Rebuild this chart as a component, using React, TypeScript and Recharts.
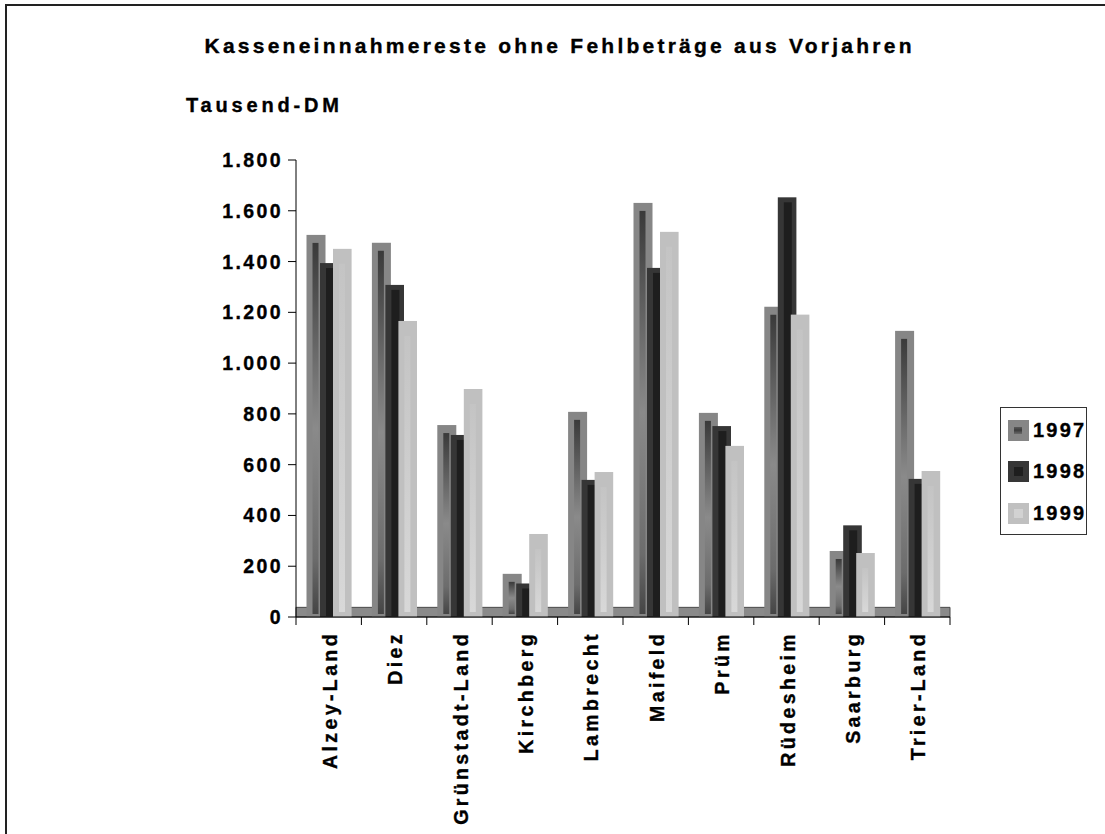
import React from "react";
import { BarChart, Bar, XAxis, YAxis, ReferenceArea } from "recharts";

// Kasseneinnahmereste (Tausend-DM)
const gemeinden = [
  "Alzey-Land",
  "Diez",
  "Grünstadt-Land",
  "Kirchberg",
  "Lambrecht",
  "Maifeld",
  "Prüm",
  "Rüdesheim",
  "Saarburg",
  "Trier-Land",
];
const werte1997 = [1505, 1474, 756, 170, 808, 1631, 804, 1222, 260, 1127];
const werte1998 = [1394, 1308, 717, 132, 540, 1375, 752, 1653, 361, 544];
const werte1999 = [1450, 1166, 898, 327, 571, 1517, 674, 1191, 252, 575];
const jahre = ["1997", "1998", "1999"];
const yTicks = [0, 200, 400, 600, 800, 1000, 1200, 1400, 1600, 1800];

const data = gemeinden.map((name, i) => ({
  name,
  "1997": werte1997[i],
  "1998": werte1998[i],
  "1999": werte1999[i],
}));

const FONT = "'Liberation Sans', Arial, sans-serif";
const BAND = 65.4; // category width in px, used for the boundary ticks
const HEAVY = { stroke: "#000", strokeWidth: 0.35 };

const fmt = (v: number) => String(v).replace(/\B(?=(\d{3})+(?!\d))/g, ".");

const Bar1997 = (p: any) => {
  const { x, y, height } = p;
  if (!height || height <= 0) return null;
  const X = x - 2.5;
  const W = 19;
  const ih = Math.max(0, height - 11);
  return (
    <g>
      <rect x={X} y={y} width={W} height={height} fill="#868686" />
      {ih > 0 && <rect x={X + 6} y={y + 8} width={6} height={ih} fill="url(#g97)" />}
    </g>
  );
};

const Bar1998 = (p: any) => {
  const { x, y, height } = p;
  if (!height || height <= 0) return null;
  const X = x - 2;
  const W = 18.6;
  const ih = Math.max(0, height - 6);
  return (
    <g>
      <rect x={X} y={y} width={W} height={height} fill="#363636" />
      {ih > 0 && <rect x={X + 6} y={y + 5} width={8} height={ih} fill="#1e1e1e" />}
    </g>
  );
};

const Bar1999 = (p: any) => {
  const { x, y, height } = p;
  if (!height || height <= 0) return null;
  const X = x - 2;
  const W = 18.6;
  const ih = Math.max(0, height - 20);
  return (
    <g>
      <rect x={X} y={y} width={W} height={height} fill="#c0c0c0" />
      {ih > 0 && <rect x={X + 6} y={y + 15} width={6} height={ih} fill="url(#g99)" />}
    </g>
  );
};

const YTick = (p: any) => {
  const { x, y, payload } = p;
  return (
    <text
      x={x - 3}
      y={y}
      textAnchor="end"
      dominantBaseline="central"
      fontFamily={FONT}
      fontWeight="bold"
      fontSize={19.5}
      fill="#000"
      {...HEAVY}
      style={{ letterSpacing: "2.4px" }}
    >
      {fmt(payload.value)}
    </text>
  );
};

const XTick = (p: any) => {
  const { x, y, payload, index } = p;
  const left = x - BAND / 2;
  return (
    <g>
      <line x1={left} y1={y - 8} x2={left} y2={y} stroke="#000" />
      {index === gemeinden.length - 1 && (
        <line x1={left + BAND} y1={y - 8} x2={left + BAND} y2={y} stroke="#000" />
      )}
      <text
        transform={`translate(${x + 8},${y + 6}) rotate(-90)`}
        textAnchor="end"
        fontFamily={FONT}
        fontWeight="bold"
        fontSize={19.5}
        fill="#000"
        {...HEAVY}
        style={{ letterSpacing: "3.4px" }}
      >
        {payload.value}
      </text>
    </g>
  );
};

const swatch = (jahr: string) => {
  if (jahr === "1997")
    return (
      <svg width={21} height={21}>
        <rect width={21} height={21} fill="#868686" />
        <rect x={6} y={7} width={8} height={7} fill="url(#g97l)" />
      </svg>
    );
  if (jahr === "1998")
    return (
      <svg width={21} height={21}>
        <rect width={21} height={21} fill="#363636" />
        <rect x={6} y={6} width={9} height={9} fill="#1e1e1e" />
      </svg>
    );
  return (
    <svg width={21} height={21}>
      <rect width={21} height={21} fill="#c0c0c0" />
      <rect x={6} y={6} width={9} height={9} fill="#d2d2d2" />
    </svg>
  );
};

export default function App() {
  return (
    <div
      style={{
        position: "absolute",
        left: 0,
        top: 0,
        width: 1105,
        height: 834,
        overflow: "hidden",
        background: "#fff",
        fontFamily: FONT,
      }}
    >
      <div
        style={{
          position: "absolute",
          left: 5,
          top: 4,
          width: 1200,
          height: 900,
          borderTop: "2px solid #222",
          borderLeft: "2px solid #222",
        }}
      />
      <svg width={1105} height={140} style={{ position: "absolute", left: 0, top: 0 }}>
        <defs>
          <linearGradient id="g97l" x1="0" y1="0" x2="0" y2="1">
            <stop offset="0" stopColor="#5a5a5a" />
            <stop offset="0.45" stopColor="#3c3c3c" />
            <stop offset="1" stopColor="#6a6a6a" />
          </linearGradient>
        </defs>
        <text
          x={558}
          y={53}
          textAnchor="middle"
          fontFamily={FONT}
          fontWeight="bold"
          fontSize={21}
          textLength={707}
          lengthAdjust="spacing"
          {...HEAVY}
        >
          Kasseneinnahmereste ohne Fehlbeträge aus Vorjahren
        </text>
        <text
          x={186}
          y={112}
          fontFamily={FONT}
          fontWeight="bold"
          fontSize={20}
          textLength={153}
          lengthAdjust="spacing"
          {...HEAVY}
        >
          Tausend-DM
        </text>
      </svg>
      <div style={{ position: "absolute", left: 0, top: 0 }}>
        <BarChart
          width={1105}
          height={834}
          data={data}
          margin={{ top: 160, right: 155, bottom: 187, left: 216 }}
          barSize={13}
          barGap={0}
          barCategoryGap={0}
        >
          <defs>
            <linearGradient id="g97" x1="0" y1="0" x2="0" y2="1">
              <stop offset="0" stopColor="#3a3a3a" />
              <stop offset="0.5" stopColor="#8a8a8a" />
              <stop offset="0.85" stopColor="#6c6c6c" />
              <stop offset="1" stopColor="#454545" />
            </linearGradient>
            <linearGradient id="g99" x1="0" y1="0" x2="0" y2="1">
              <stop offset="0" stopColor="#c4c4c4" />
              <stop offset="1" stopColor="#d8d8d8" />
            </linearGradient>
          </defs>
          <ReferenceArea
            y1={0}
            y2={38}
            fill="#8a8a8a"
            fillOpacity={1}
            stroke="#4a4a4a"
            strokeWidth={1}
            ifOverflow="visible"
          />
          <XAxis
            dataKey="name"
            axisLine={{ stroke: "#000" }}
            tickLine={false}
            tick={<XTick />}
            interval={0}
            height={30}
          />
          <YAxis
            width={80}
            domain={[0, 1800]}
            ticks={yTicks}
            interval={0}
            axisLine={{ stroke: "#000" }}
            tickLine={{ stroke: "#000" }}
            tickSize={8}
            tick={<YTick />}
          />
          {jahre.map((j) => (
            <Bar
              key={j}
              dataKey={j}
              isAnimationActive={false}
              shape={j === "1997" ? Bar1997 : j === "1998" ? Bar1998 : Bar1999}
            />
          ))}
        </BarChart>
      </div>
      <div
        style={{
          position: "absolute",
          left: 1000,
          top: 407,
          width: 87,
          height: 128,
          border: "1px solid #333",
          boxSizing: "border-box",
          background: "#fff",
        }}
      >
        {jahre.map((j, i) => (
          <div
            key={j}
            style={{
              position: "absolute",
              left: 7,
              top: 11 + i * 41.5,
              display: "flex",
              alignItems: "center",
              height: 22,
            }}
          >
            {swatch(j)}
            <span
              style={{
                marginLeft: 4,
                fontWeight: "bold",
                fontSize: 20,
                letterSpacing: "2.2px",
                color: "#000",
                WebkitTextStroke: "0.35px #000",
              }}
            >
              {j}
            </span>
          </div>
        ))}
      </div>
    </div>
  );
}
